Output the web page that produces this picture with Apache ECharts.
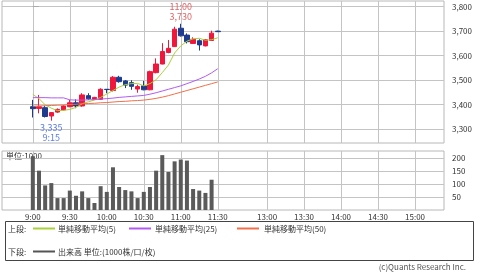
<!DOCTYPE html>
<html><head><meta charset="utf-8">
<script src="https://cdn.jsdelivr.net/npm/echarts@6/dist/echarts.min.js"></script>
<style>html,body{margin:0;padding:0;background:#fff}#c{width:480px;height:272px}</style>
</head><body><div id="c"></div>
<script>
const times = ['9:00','9:05','9:10','9:15','9:20','9:25','9:30','9:35','9:40','9:45','9:50','9:55',
  '10:00','10:05','10:10','10:15','10:20','10:25','10:30','10:35','10:40','10:45','10:50','10:55',
  '11:00','11:05','11:10','11:15','11:20','11:25','11:30'];
const opens  = [3392,3385,3388,3354,3370,3379,3392,3408,3395,3437,3422,3422,3463,3458,3512,3497,3490,3464,3477,3461,3531,3566,3613,3637,3712,3684,3650,3661,3640,3662,3700];
const closes = [3384,3392,3352,3368,3381,3395,3408,3395,3440,3424,3430,3463,3462,3512,3494,3480,3475,3474,3461,3535,3566,3617,3630,3708,3681,3657,3667,3644,3665,3692,3698];
const lows   = [3348,3365,3348,3335,3367,3377,3390,3386,3392,3420,3420,3420,3447,3454,3490,3468,3461,3449,3459,3459,3528,3565,3610,3636,3678,3650,3648,3621,3638,3660,3698];
const highs  = [3420,3440,3396,3370,3385,3398,3420,3422,3447,3447,3432,3467,3464,3517,3518,3501,3500,3482,3497,3539,3589,3651,3664,3718,3730,3691,3675,3667,3668,3702,3702];
const volumes = [208,152,95,104,46,46,75,55,72,46,27,92,70,165,89,77,72,46,70,89,152,212,147,188,195,191,81,75,66,117,0];
const ma5  = [3442,3425,3400,3386,3376,3377,3381,3389,3404,3412,3419,3430,3444,3458,3472,3482,3486,3487,3477,3486,3502,3531,3562,3611,3640,3659,3669,3671,3663,3665,3673];
const ma25 = [3429,3429,3429,3428,3428,3428,3420,3419,3419,3420,3421,3423,3425,3427,3430,3432,3434,3436,3438,3443,3449,3456,3463,3470,3477,3486,3495,3505,3516,3530,3547];
const ma50 = [3394,3395,3396,3397,3398,3399,3401,3402,3404,3405,3406,3408,3409,3411,3413,3414,3416,3417,3419,3422,3426,3431,3437,3444,3451,3458,3465,3472,3479,3486,3493];
const priceTicks = [3300,3400,3500,3600,3700,3800];
const volumeTicks = [50,100,150,200];
const timeTickSlots = [0,6,12,18,24,30,38,44,50,56,62];
const timeTickLabels = ['9:00','9:30','10:00','10:30','11:00','11:30','13:00','13:30','14:00','14:30','15:00'];

const FONT = '"Noto Sans CJK JP", "Noto Sans", sans-serif';
const UP = '#f0163c', DOWN = '#1d3c8e';
const GRIDC = '#c4c4c4';
const fmt = v => v.toLocaleString('en-US');

let hiIdx = 0, loIdx = 0;
highs.forEach((v,i)=>{ if (v > highs[hiIdx]) hiIdx = i; });
lows.forEach((v,i)=>{ if (v < lows[loIdx]) loIdx = i; });

const candleData = times.map((t,i)=>[i, opens[i], closes[i], lows[i], highs[i]]);
const volData = times.map((t,i)=>[i, volumes[i]]);
const lineOf = arr => arr.map((v,i)=>[i, v]);

const xCommon = {
  type: 'value', min: -5, max: 66.7,
  axisLine: {show: false},
  axisTick: {show: false, customValues: timeTickSlots},
  splitLine: {show: true, lineStyle: {color: GRIDC, width: 1}},
};

const chart = echarts.init(document.getElementById('c'), null, {renderer: 'canvas'});
chart.setOption({
  animation: false,
  textStyle: {fontFamily: FONT},
  grid: [
    {left: 2, right: 36, top: 1, height: 142, show: true, borderColor: '#b8b8b8', borderWidth: 1, backgroundColor: '#fff'},
    {left: 2, right: 36, top: 151, height: 59, show: true, borderColor: '#b8b8b8', borderWidth: 1, backgroundColor: '#fff'}
  ],
  xAxis: [
    Object.assign({gridIndex: 0, axisLabel: {show: false, customValues: timeTickSlots}}, xCommon),
    Object.assign({gridIndex: 1, axisLabel: {show: true, customValues: timeTickSlots, margin: 3,
      fontSize: 8, color: '#333', fontFamily: FONT,
      formatter: v => { const k = timeTickSlots.indexOf(v); return k >= 0 ? timeTickLabels[k] : ''; }}}, xCommon)
  ],
  yAxis: [
    {gridIndex: 0, type: 'value', position: 'right', min: 3244, max: 3823, scale: true,
     axisLine: {show: false},
     axisTick: {show: true, length: 6, customValues: priceTicks, lineStyle: {color: '#aaa'}},
     axisLabel: {customValues: priceTicks, margin: 8, fontSize: 8, color: '#333', fontFamily: FONT, formatter: v => fmt(v)},
     splitLine: {show: true, lineStyle: {color: GRIDC}}},
    {gridIndex: 1, type: 'value', position: 'right', min: 0, max: 228,
     axisLine: {show: false},
     axisTick: {show: true, length: 6, customValues: volumeTicks, lineStyle: {color: '#aaa'}},
     axisLabel: {customValues: volumeTicks, margin: 8, fontSize: 8, color: '#333', fontFamily: FONT},
     splitLine: {show: true, lineStyle: {color: GRIDC}}}
  ],
  series: [
    {type: 'candlestick', xAxisIndex: 0, yAxisIndex: 0, barWidth: 5, clip: false,
     encode: {x: 0, y: [1,2,3,4]},
     itemStyle: {color: UP, color0: DOWN, borderColor: UP, borderColor0: DOWN, borderWidth: 1},
     data: candleData},
    {type: 'line', name: '単純移動平均(5)', xAxisIndex: 0, yAxisIndex: 0, data: lineOf(ma5),
     showSymbol: false, lineStyle: {color: '#a9d13a', width: 1}, z: 3,
     markPoint: {symbol: 'circle', symbolSize: 0, itemStyle: {color: 'transparent'},
       data: [
         {coord: [hiIdx, highs[hiIdx]], label: {show: true, position: 'top', distance: 2, lineHeight: 10,
           fontSize: 9, fontFamily: FONT, color: '#e06464', formatter: times[hiIdx] + '\n' + fmt(highs[hiIdx])}},
         {coord: [loIdx, lows[loIdx]], label: {show: true, position: 'bottom', distance: 2, lineHeight: 10,
           fontSize: 9, fontFamily: FONT, color: '#5b7de6', formatter: fmt(lows[loIdx]) + '\n' + times[loIdx]}}
       ]}},
    {type: 'line', name: '単純移動平均(25)', xAxisIndex: 0, yAxisIndex: 0, data: lineOf(ma25),
     showSymbol: false, lineStyle: {color: '#b25bf2', width: 1}, z: 3},
    {type: 'line', name: '単純移動平均(50)', xAxisIndex: 0, yAxisIndex: 0, data: lineOf(ma50),
     showSymbol: false, lineStyle: {color: '#f0704a', width: 1}, z: 3},
    {type: 'bar', name: '出来高', xAxisIndex: 1, yAxisIndex: 1, barWidth: 4, data: volData,
     itemStyle: {color: '#5a5a5a'}}
  ],
  graphic: [
    {type: 'text', left: 6, top: 152, style: {text: '単位:1000', font: '8px ' + FONT, fill: '#333'}},
    {type: 'rect', shape: {x: 5.5, y: 221.5, width: 468, height: 39}, style: {fill: 'none', stroke: '#444', lineWidth: 1}},
    {type: 'text', x: 8, y: 228.5, style: {text: '上段:', font: '8px ' + FONT, fill: '#333', verticalAlign: 'middle'}},
    {type: 'line', shape: {x1: 33, y1: 228.5, x2: 55, y2: 228.5}, style: {stroke: '#a9d13a', lineWidth: 2}},
    {type: 'text', x: 58, y: 228.5, style: {text: '単純移動平均(5)', font: '8px ' + FONT, fill: '#333', verticalAlign: 'middle'}},
    {type: 'line', shape: {x1: 129, y1: 228.5, x2: 151, y2: 228.5}, style: {stroke: '#b25bf2', lineWidth: 2}},
    {type: 'text', x: 155, y: 228.5, style: {text: '単純移動平均(25)', font: '8px ' + FONT, fill: '#333', verticalAlign: 'middle'}},
    {type: 'line', shape: {x1: 237, y1: 228.5, x2: 259, y2: 228.5}, style: {stroke: '#f0704a', lineWidth: 2}},
    {type: 'text', x: 264, y: 228.5, style: {text: '単純移動平均(50)', font: '8px ' + FONT, fill: '#333', verticalAlign: 'middle'}},
    {type: 'text', x: 8, y: 251.5, style: {text: '下段:', font: '8px ' + FONT, fill: '#333', verticalAlign: 'middle'}},
    {type: 'line', shape: {x1: 33, y1: 251.5, x2: 55, y2: 251.5}, style: {stroke: '#555', lineWidth: 2}},
    {type: 'text', x: 58, y: 251.5, style: {text: '出来高 単位:(1000株/口/枚)', font: '8px ' + FONT, fill: '#333', verticalAlign: 'middle'}},
    {type: 'text', x: 466, y: 267, style: {text: '(c)Quants Research Inc.', font: '8px ' + FONT, fill: '#555', align: 'right', verticalAlign: 'middle'}}
  ]
});
</script>
</body></html>
